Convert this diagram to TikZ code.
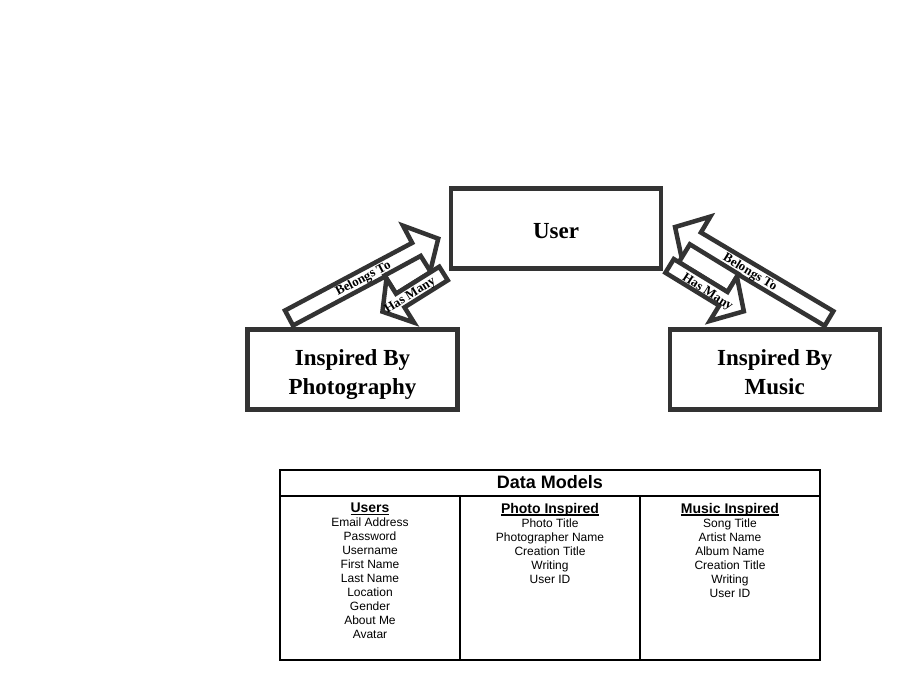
\documentclass[tikz,border=0pt]{standalone}
\usepackage{fontspec}
\setmainfont{Liberation Serif}
\newfontfamily\arialfont{Liberation Sans}
\definecolor{boxgray}{HTML}{333333}
\newcommand\colhead[1]{\setbox0\hbox{#1}\rlap{\rule[-2.3pt]{\wd0}{1.3pt}}\box0}
\begin{document}
\begin{tikzpicture}[x=1pt,y=-1pt,
  bigbox/.style={draw=boxgray, line width=4.5pt, fill=white, minimum width=210pt, minimum height=80pt, inner sep=0pt},
  boxtext/.style={font=\fontsize{23}{29}\selectfont\bfseries, align=center, inner sep=0pt},
  blockarrow/.style={draw=boxgray, line width=4.5pt, fill=white, line join=miter},
  arrowlabel/.style={font=\fontsize{13}{13}\selectfont\bfseries, inner sep=0pt},
  tableline/.style={draw=black, line width=2pt},
  colnode/.style={font=\arialfont\fontsize{12}{14}\selectfont, align=center, inner sep=0pt, anchor=north},
  colhdr/.style={}
]
\useasboundingbox[fill=white] (0,0) rectangle (899,680);

% ---- left cluster: Belongs To (Photography -> User)
\begin{scope}[shift={(289,318)}, x={(0.8829pt,0.4695pt)}, y={(0.4695pt,-0.8829pt)}]
  \draw[blockarrow] (0,-8.5) -- (144,-8.5) -- (144,-28) -- (169,0) -- (144,28) -- (144,8.5) -- (0,8.5) -- cycle;
  \node[arrowlabel, rotate=28] (lbelongs) at (84,0.5) {Belongs To};
\end{scope}
% ---- left cluster: Has Many (User -> Photography)
\begin{scope}[shift={(443.5,273.5)}, x={(-0.848pt,-0.530pt)}, y={(0.530pt,-0.848pt)}]
  \draw[blockarrow] (10,-27) -- (51,-29.5) -- (51,-8) -- (10,-8) -- cycle;
  \draw[blockarrow] (0,-8) -- (51,-8) -- (51,-26) -- (72,0) -- (51,26) -- (51,8) -- (0,8) -- cycle;
  \node[arrowlabel, rotate=32] (lhasmany) at (40,1.5) {Has Many};
\end{scope}

% ---- right cluster: Belongs To (Music -> User)
\begin{scope}[shift={(829,318.5)}, x={(-0.860pt,0.511pt)}, y={(-0.511pt,-0.860pt)}]
  \draw[blockarrow] (0,-8.5) -- (154,-8.5) -- (154,-27) -- (179,0) -- (154,27) -- (154,8.5) -- (0,8.5) -- cycle;
  \node[arrowlabel, rotate=-31] (rbelongs) at (91.5,1) {Belongs To};
\end{scope}
% ---- right cluster: Has Many (User -> Music)
\begin{scope}[shift={(669.6,265.9)}, x={(0.853pt,-0.522pt)}, y={(-0.522pt,-0.853pt)}]
  \draw[blockarrow] (6,-29) -- (63,-29) -- (63,-8) -- (6,-8) -- cycle;
  \draw[blockarrow] (0,-8) -- (63,-8) -- (63,-26) -- (87,0) -- (63,26) -- (63,8) -- (0,8) -- cycle;
  \node[arrowlabel, rotate=-33] (rhasmany) at (46,3) {Has Many};
\end{scope}

% ---- boxes
\node[bigbox] (user) at (556,228.5) {};
\node[boxtext] (usertext) at (556,231) {User};
\node[bigbox] (photo) at (352.5,369.5) {};
\node[boxtext, anchor=north] (phototext) at (352.5,349) {Inspired By\\Photography};
\node[bigbox] (music) at (774.75,369.5) {};
\node[boxtext, anchor=north] (musictext) at (774.75,349) {Inspired By\\Music};

% ---- data models table
\draw[tableline] (280,470) rectangle (820,660);
\draw[tableline] (280,496) -- (820,496);
\draw[tableline] (460,496) -- (460,660);
\draw[tableline] (640,496) -- (640,660);
\node[font=\arialfont\fontsize{18}{18}\selectfont\bfseries, inner sep=0pt] (dmtitle) at (550,482) {Data Models};
\node[colnode] (colusers) at (370,503) {{\fontsize{14}{14}\selectfont\bfseries\colhead{Users}}\\Email Address\\Password\\Username\\First Name\\Last Name\\Location\\Gender\\About Me\\Avatar};
\node[colnode] (colphoto) at (550,503) {{\fontsize{14}{14}\selectfont\bfseries\colhead{Photo Inspired}}\\Photo Title\\Photographer Name\\Creation Title\\Writing\\User ID};
\node[colnode] (colmusic) at (730,503) {{\fontsize{14}{14}\selectfont\bfseries\colhead{Music Inspired}}\\Song Title\\Artist Name\\Album Name\\Creation Title\\Writing\\User ID};
\end{tikzpicture}
\end{document}
